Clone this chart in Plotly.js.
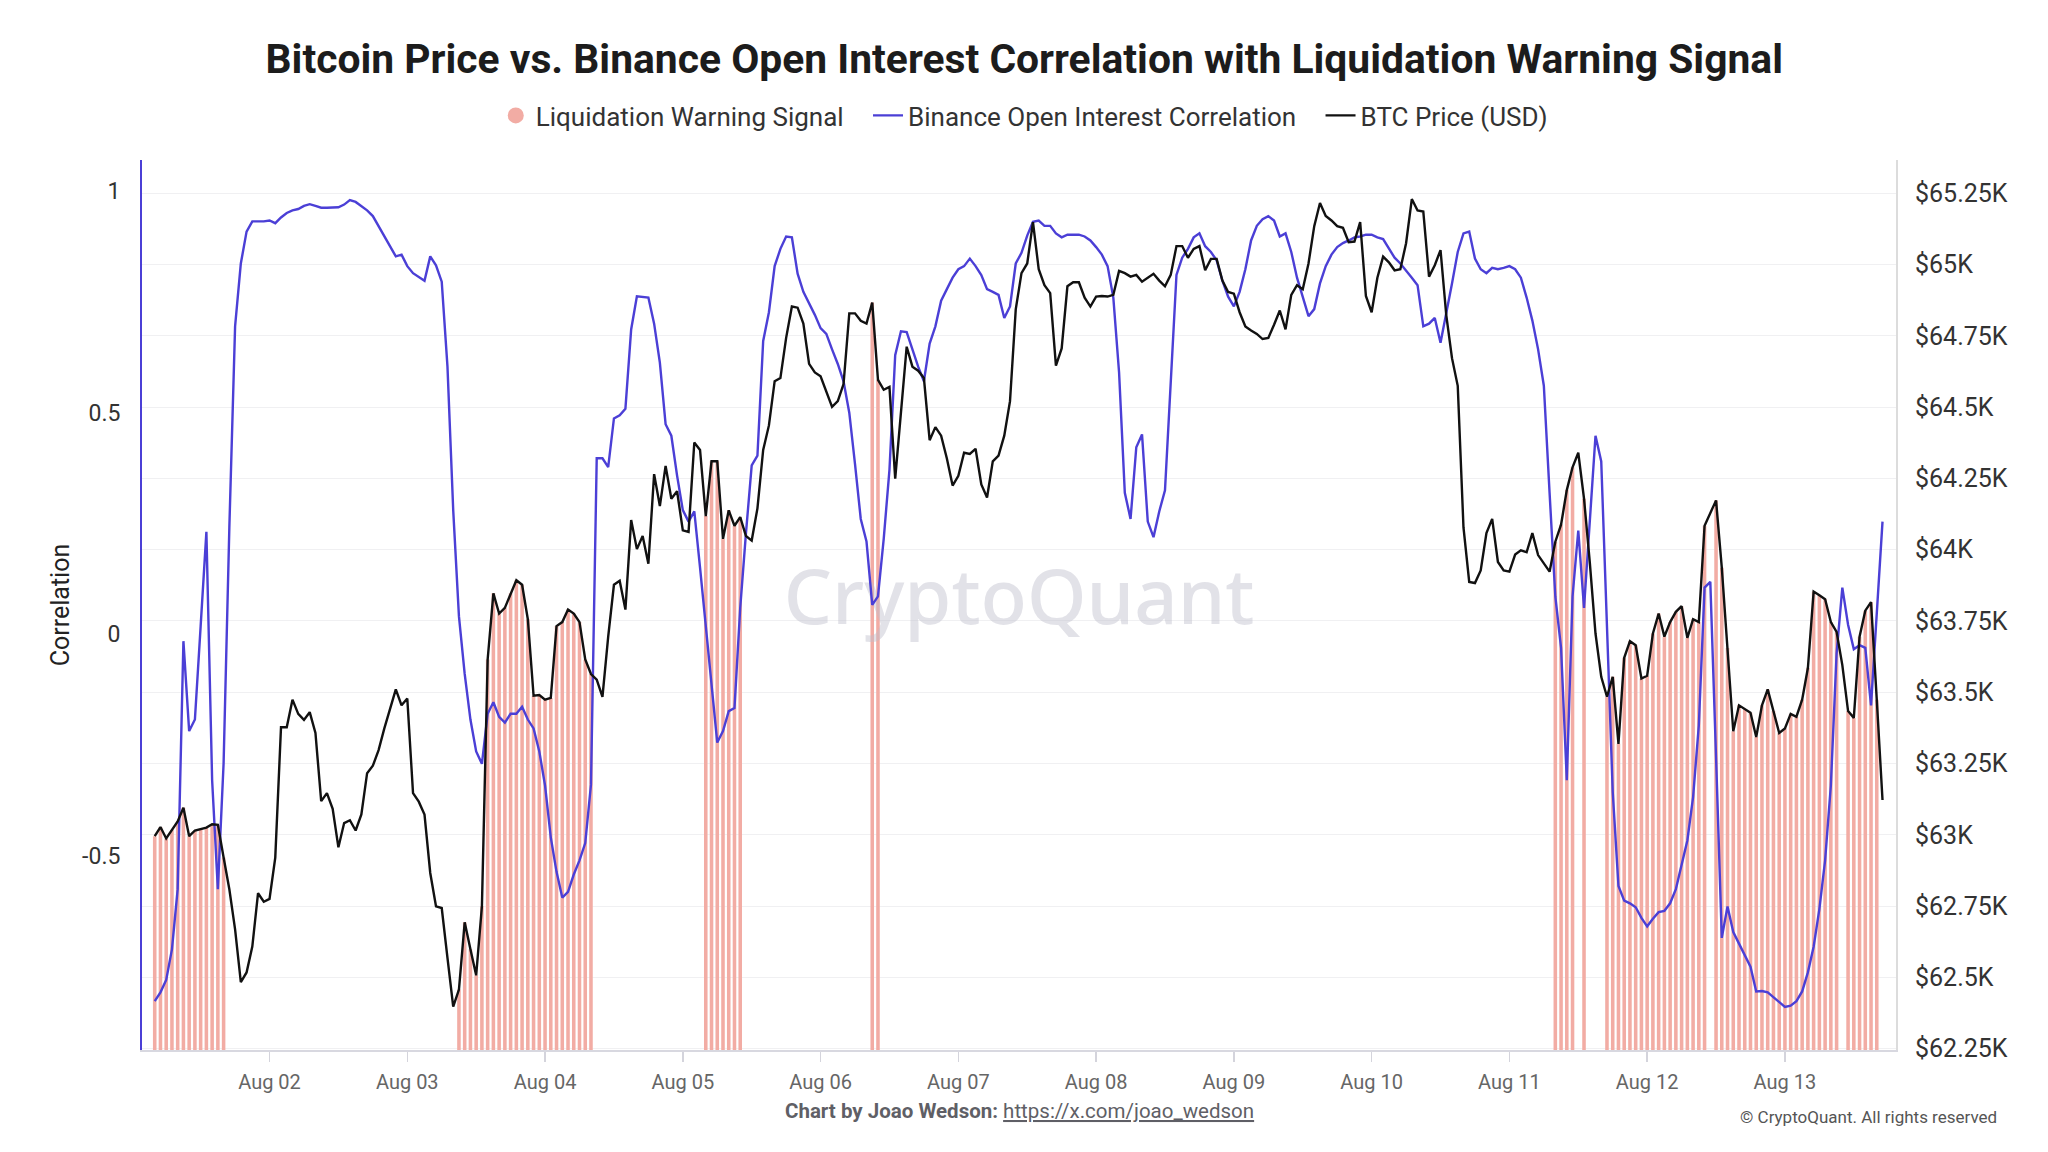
<!DOCTYPE html>
<html>
<head>
<meta charset="utf-8">
<script src="https://cdn.plot.ly/plotly-3.0.1.min.js"></script>
<style>
  html, body { margin: 0; padding: 0; background: #ffffff; }
  #chart { width: 2048px; height: 1152px; }
</style>
</head>
<body>
<div id="chart"></div>
<script>
// ---------------- DATA (hourly, first point = Aug 01 04:00) ----------------
const FIRST_HOUR = 4;

// BTC price (USD), one row per day
const btcPrice = [
  62995, 63027, 62987, 63017, 63047, 63095, 62995, 63015, 63021, 63025, 63037, 63035, 62920, 62809, 62668, 62483, 62517, 62608, 62795, 62765,
  62775, 62920, 63377, 63377, 63474, 63424, 63403, 63430, 63357, 63118, 63146, 63091, 62956, 63041, 63051, 63015, 63071, 63216, 63242, 63297, 63373, 63444, 63510, 63454,
  63478, 63146, 63116, 63071, 62866, 62749, 62743, 62568, 62397, 62457, 62693, 62598, 62507, 62749, 63615, 63847, 63776, 63796, 63847, 63893, 63877, 63756, 63488, 63490,
  63474, 63480, 63732, 63746, 63790, 63776, 63746, 63615, 63564, 63544, 63484, 63695, 63877, 63891, 63790, 64104, 64002, 64048, 63951, 64265, 64153, 64294, 64179, 64205,
  64068, 64062, 64376, 64350, 64118, 64310, 64310, 64038, 64138, 64084, 64114, 64048, 64032, 64145, 64350, 64436, 64591, 64602, 64743, 64853, 64849, 64793, 64652, 64622,
  64608, 64551, 64501, 64521, 64581, 64829, 64829, 64803, 64793, 64867, 64596, 64561, 64571, 64249, 64471, 64712, 64642, 64628, 64602, 64384, 64430, 64400, 64320, 64225,
  64259, 64340, 64336, 64354, 64229, 64183, 64310, 64330, 64400, 64521, 64843, 64970, 65004, 65149, 64984, 64928, 64900, 64646, 64706, 64924, 64938, 64938, 64884, 64853,
  64888, 64890, 64888, 64894, 64978, 64970, 64958, 64964, 64940, 64954, 64968, 64944, 64924, 64964, 65065, 65065, 65024, 65055, 65065, 64980, 65020, 65020, 64944, 64904,
  64898, 64833, 64783, 64769, 64757, 64739, 64743, 64789, 64839, 64773, 64894, 64928, 64914, 65004, 65135, 65216, 65171, 65155, 65135, 65129, 65079, 65081, 65149, 64890,
  64833, 64954, 65028, 65008, 64980, 64984, 65075, 65230, 65190, 65186, 64958, 64998, 65051, 64823, 64672, 64575, 64078, 63887, 63883, 63927, 64058, 64108, 63957, 63927,
  63923, 63983, 63998, 63991, 64058, 63981, 63953, 63923, 64028, 64088, 64209, 64289, 64340, 64179, 63957, 63706, 63554, 63484, 63554, 63319, 63621, 63679, 63665, 63548,
  63558, 63706, 63776, 63695, 63746, 63782, 63802, 63691, 63756, 63746, 64084, 64128, 64173, 63937, 63655, 63363, 63454, 63440, 63428, 63343, 63454, 63510, 63434, 63357,
  63373, 63424, 63414, 63474, 63585, 63853, 63840, 63826, 63746, 63712, 63595, 63434, 63410, 63695, 63786, 63816, 63474, 63122
];

// Binance open interest correlation, one row per day
const oiCorrelation = [
  -0.829, -0.809, -0.781, -0.712, -0.576, -0.016, -0.219, -0.193, 0.018, 0.231, -0.330, -0.576, -0.291, 0.241, 0.695, 0.837, 0.909, 0.932, 0.932, 0.932,
  0.934, 0.928, 0.941, 0.951, 0.957, 0.960, 0.967, 0.971, 0.967, 0.963, 0.963, 0.963, 0.964, 0.970, 0.980, 0.976, 0.967, 0.957, 0.944, 0.922, 0.900, 0.876, 0.853, 0.857,
  0.831, 0.815, 0.807, 0.798, 0.853, 0.833, 0.796, 0.604, 0.280, 0.040, -0.090, -0.193, -0.265, -0.293, -0.180, -0.154, -0.187, -0.200, -0.180, -0.180, -0.164, -0.193, -0.213, -0.265,
  -0.342, -0.459, -0.537, -0.595, -0.582, -0.543, -0.511, -0.472, -0.340, 0.397, 0.397, 0.377, 0.487, 0.494, 0.509, 0.688, 0.763, 0.762, 0.760, 0.701, 0.613, 0.474, 0.448, 0.358,
  0.280, 0.254, 0.277, 0.150, 0.021, -0.109, -0.245, -0.219, -0.174, -0.167, 0.059, 0.228, 0.381, 0.403, 0.662, 0.727, 0.831, 0.870, 0.898, 0.896, 0.814, 0.773, 0.747, 0.721,
  0.691, 0.678, 0.643, 0.610, 0.571, 0.500, 0.384, 0.260, 0.209, 0.066, 0.085, 0.215, 0.371, 0.630, 0.684, 0.682, 0.643, 0.604, 0.571, 0.656, 0.695, 0.753, 0.779, 0.805,
  0.824, 0.831, 0.848, 0.831, 0.811, 0.779, 0.773, 0.766, 0.714, 0.740, 0.837, 0.861, 0.900, 0.931, 0.934, 0.922, 0.922, 0.905, 0.896, 0.902, 0.902, 0.902, 0.898, 0.889,
  0.874, 0.857, 0.831, 0.760, 0.591, 0.319, 0.260, 0.422, 0.451, 0.254, 0.219, 0.277, 0.325, 0.578, 0.811, 0.850, 0.870, 0.896, 0.905, 0.876, 0.863, 0.844, 0.798, 0.762,
  0.740, 0.773, 0.824, 0.889, 0.922, 0.937, 0.944, 0.934, 0.898, 0.905, 0.863, 0.805, 0.760, 0.718, 0.734, 0.792, 0.831, 0.857, 0.874, 0.883, 0.889, 0.896, 0.898, 0.902,
  0.902, 0.896, 0.892, 0.870, 0.850, 0.837, 0.822, 0.805, 0.788, 0.695, 0.701, 0.714, 0.658, 0.721, 0.792, 0.863, 0.905, 0.909, 0.848, 0.824, 0.815, 0.827, 0.824, 0.827,
  0.831, 0.824, 0.805, 0.760, 0.708, 0.643, 0.561, 0.319, 0.085, -0.031, -0.330, 0.085, 0.234, 0.059, 0.254, 0.448, 0.390, 0.034, -0.356, -0.569, -0.602, -0.608, -0.617, -0.641,
  -0.660, -0.643, -0.628, -0.625, -0.608, -0.576, -0.524, -0.466, -0.368, -0.206, 0.105, 0.118, -0.278, -0.686, -0.615, -0.673, -0.699, -0.725, -0.751, -0.807, -0.806, -0.809, -0.820, -0.831,
  -0.842, -0.839, -0.829, -0.807, -0.764, -0.706, -0.621, -0.511, -0.342, -0.044, 0.105, 0.021, -0.034, -0.025, -0.031, -0.161, 0.046, 0.254
];

// Liquidation warning signal (1 = active), one row per day
const liqWarning = [
  1,1,1,1,1,1,1,1,1,1,1,1,1,0,0,0,0,0,0,0,
  0,0,0,0,0,0,0,0,0,0,0,0,0,0,0,0,0,0,0,0,0,0,0,0,
  0,0,0,0,0,0,0,0,0,1,1,1,1,1,1,1,1,1,1,1,1,1,1,1,
  1,1,1,1,1,1,1,1,1,0,0,0,0,0,0,0,0,0,0,0,0,0,0,0,
  0,0,0,0,1,1,1,1,1,1,1,0,0,0,0,0,0,0,0,0,0,0,0,0,
  0,0,0,0,0,0,0,0,0,1,1,0,0,0,0,0,0,0,0,0,0,0,0,0,
  0,0,0,0,0,0,0,0,0,0,0,0,0,0,0,0,0,0,0,0,0,0,0,0,
  0,0,0,0,0,0,0,0,0,0,0,0,0,0,0,0,0,0,0,0,0,0,0,0,
  0,0,0,0,0,0,0,0,0,0,0,0,0,0,0,0,0,0,0,0,0,0,0,0,
  0,0,0,0,0,0,0,0,0,0,0,0,0,0,0,0,0,0,0,0,0,0,0,0,
  0,0,0,0,0,0,0,0,1,1,1,1,0,1,0,0,0,1,1,1,1,1,1,1,
  1,1,1,1,1,1,1,1,1,1,1,0,1,1,1,1,1,1,1,1,1,1,1,1,
  1,1,1,1,1,1,1,1,1,1,0,1,1,1,1,1,1,0
];

// Axis tick labels
const corrTickVals = [-0.5, 0, 0.5, 1];
const corrTickText = ['-0.5', '0', '0.5', '1'];
const priceTickVals = [62250, 62500, 62750, 63000, 63250, 63500, 63750, 64000, 64250, 64500, 64750, 65000, 65250];
const priceTickText = ['$62.25K', '$62.5K', '$62.75K', '$63K', '$63.25K', '$63.5K', '$63.75K', '$64K', '$64.25K', '$64.5K', '$64.75K', '$65K', '$65.25K'];

// ---------------- BUILD ----------------
function hourStamp(h) {
  const day = Math.floor(h / 24) + 1;
  const hr = h % 24;
  return '2024-08-' + String(day).padStart(2, '0') + ' ' + String(hr).padStart(2, '0') + ':00';
}
const times = btcPrice.map((_, i) => hourStamp(FIRST_HOUR + i));
const warningBars = btcPrice.map((p, i) => (liqWarning[i] ? p : null));

const BLUE = '#4b3fd6';
const PINK = '#f2aca4';
const FONT = 'Roboto, "Noto Sans", Arial, sans-serif';
const PRICE_RANGE = [62245, 65367];
const NB = '\u00a0\u00a0\u00a0';

const traces = [
  { // watermark (drawn beneath the data)
    type: 'scatter', mode: 'text', x: ['2024-08-07 10:35'], y: [63806], yaxis: 'y',
    text: ['CryptoQuant'], textposition: 'middle center',
    textfont: { family: '"Noto Sans", sans-serif', size: 76, weight: 500, color: 'rgba(190,190,205,0.45)' },
    hoverinfo: 'skip', showlegend: false, cliponaxis: false
  },
  { // legend entry for warning signal (circle symbol)
    type: 'scatter', mode: 'markers', x: [null], y: [null], yaxis: 'y',
    name: 'Liquidation Warning Signal' + NB,
    marker: { symbol: 'circle', size: 24, color: PINK },
    hoverinfo: 'skip', showlegend: true
  },
  {
    type: 'bar', x: times, y: warningBars, yaxis: 'y',
    name: 'Liquidation Warning Signal', showlegend: false,
    marker: { color: PINK, line: { width: 0 } },
    width: 3600000 * 0.62, hoverinfo: 'skip'
  },
  {
    type: 'scatter', mode: 'lines', x: times, y: oiCorrelation, yaxis: 'y2',
    name: 'Binance Open Interest Correlation' + NB,
    line: { color: BLUE, width: 2.4 }
  },
  {
    type: 'scatter', mode: 'lines', x: times, y: btcPrice, yaxis: 'y3',
    name: 'BTC Price (USD)',
    line: { color: '#111111', width: 2.4 }
  }
];

const layout = {
  width: 2048, height: 1152,
  paper_bgcolor: '#ffffff', plot_bgcolor: '#ffffff',
  margin: { l: 142, r: 152, t: 160, b: 102, pad: 0 },
  font: { family: FONT, color: '#333333' },
  title: {
    text: 'Bitcoin Price vs. Binance Open Interest Correlation with Liquidation Warning Signal',
    x: 0.503, xanchor: 'center', xref: 'paper',
    y: 0.9488, yanchor: 'middle', yref: 'container',
    font: { family: FONT, size: 40.8, weight: 700, color: '#1c1c1c' }
  },
  showlegend: true,
  legend: {
    orientation: 'h', x: 0.503, xanchor: 'center', y: 1.05, yanchor: 'middle',
    font: { family: FONT, size: 26, color: '#333333' },
    bgcolor: 'rgba(0,0,0,0)', itemwidth: 30, traceorder: 'normal'
  },
  barmode: 'overlay',
  xaxis: {
    type: 'date',
    range: ['2024-08-01 01:47', '2024-08-13 19:21'],
    tick0: '2024-08-02', dtick: 86400000, tickformat: '%b %d',
    ticks: 'outside', ticklen: 10, tickwidth: 1.5, tickcolor: '#d4d4dc',
    ticklabelstandoff: 3,
    tickfont: { family: FONT, size: 20, color: '#666666' },
    showline: true, linecolor: '#d8d8e0', linewidth: 1.5,
    showgrid: false, zeroline: false, fixedrange: true
  },
  yaxis: { // price axis (right) - bars
    side: 'right',
    range: PRICE_RANGE,
    tickvals: priceTickVals, ticktext: priceTickText,
    tickfont: { family: FONT, size: 25, color: '#333333' },
    ticks: '', ticklabelstandoff: 12,
    showline: true, linecolor: '#dcdcdc', linewidth: 2,
    showgrid: true, gridcolor: '#f0f0f2', gridwidth: 1, zeroline: false
  },
  yaxis2: { // correlation axis (left)
    overlaying: 'y', side: 'left',
    range: [-0.9393, 1.0707],
    tickvals: corrTickVals, ticktext: corrTickText,
    tickfont: { family: FONT, size: 23, color: '#333333' },
    ticks: '', ticklabelstandoff: 15,
    showline: true, linecolor: BLUE, linewidth: 2,
    showgrid: false, zeroline: false,
    title: { text: 'Correlation', font: { family: FONT, size: 25, color: '#222222' }, standoff: 5 }
  },
  yaxis3: { // price overlay for the BTC line (drawn on top)
    overlaying: 'y', side: 'right', range: PRICE_RANGE,
    visible: false, showgrid: false, zeroline: false
  },
  annotations: [
    {
      xref: 'paper', yref: 'paper', x: 0.500, y: -0.0685, xanchor: 'center', yanchor: 'middle',
      text: '<b>Chart by Joao Wedson:</b> <span style="text-decoration:underline">https://x.com/joao_wedson</span>',
      showarrow: false, font: { family: FONT, size: 20.5, color: '#5f5f66' }
    },
    {
      xref: 'paper', yref: 'paper', x: 1.0587, y: -0.0754, xanchor: 'right', yanchor: 'middle',
      text: '© CryptoQuant. All rights reserved',
      showarrow: false, font: { family: FONT, size: 17, color: '#555555' }
    }
  ]
};

Plotly.newPlot('chart', traces, layout, { displayModeBar: false, staticPlot: true });
</script>
</body>
</html>
